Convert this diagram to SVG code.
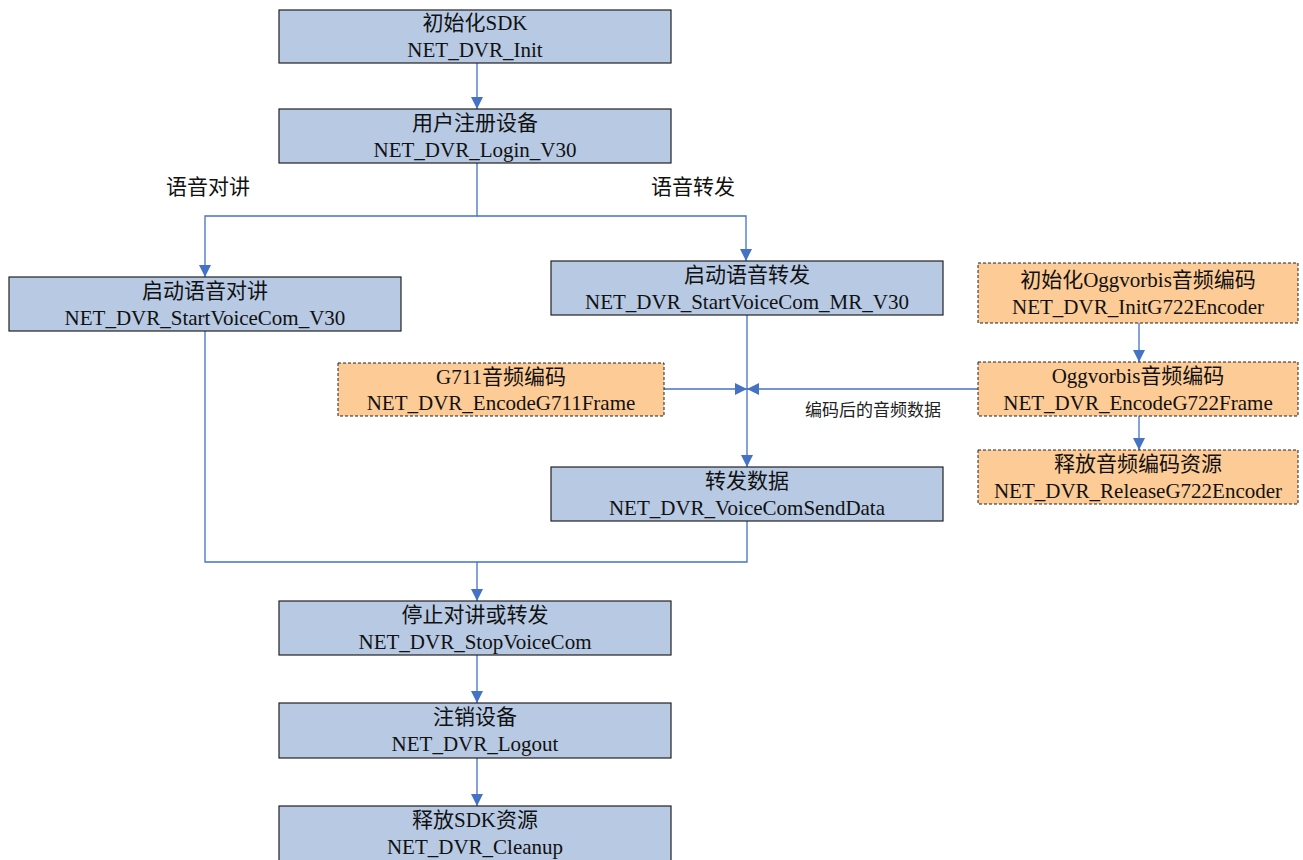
<svg xmlns="http://www.w3.org/2000/svg" width="1303" height="860" viewBox="0 0 1303 860">
<style>
.b{fill:#B7C9E3;stroke:#222;stroke-width:1.2}
.o{fill:#FDCB96;stroke:#222;stroke-width:1;stroke-dasharray:3 2}
.t{font-family:"Liberation Serif","Noto Sans CJK SC",serif;font-size:21px;fill:#111;text-anchor:middle}
.s{font-family:"Liberation Serif","Noto Sans CJK SC",serif;font-size:17px;fill:#222;text-anchor:middle}
.c{fill:none;stroke:#4472C4;stroke-width:1.3}
</style>
<defs>
<marker id="a" markerUnits="userSpaceOnUse" markerWidth="12" markerHeight="12" viewBox="0 0 12 12" refX="12" refY="6" orient="auto"><path d="M0,0 L12,6 L0,12 z" fill="#4472C4"/></marker>
</defs>
<rect width="1303" height="860" fill="#fff"/>
<g id="connectors">
<path class="c" d="M477,63 V109" marker-end="url(#a)"/>
<path class="c" d="M477,163 V216 H205 V277" marker-end="url(#a)"/>
<path class="c" d="M477,216 H746 V261" marker-end="url(#a)"/>
<path class="c" d="M747,315 V467" marker-end="url(#a)"/>
<path class="c" d="M664,389 H747" marker-end="url(#a)"/>
<path class="c" d="M978,389 H747" marker-end="url(#a)"/>
<path class="c" d="M1139,323 V362" marker-end="url(#a)"/>
<path class="c" d="M1139,416 V450" marker-end="url(#a)"/>
<path class="c" d="M205,331 V562 H747 V521"/>
<path class="c" d="M477,562 V601" marker-end="url(#a)"/>
<path class="c" d="M477,655 V703" marker-end="url(#a)"/>
<path class="c" d="M477,758 V806" marker-end="url(#a)"/>
</g>
<g id="lbl1"><text class="t" x="208" y="194">语音对讲</text></g>
<g id="lbl2"><text class="t" x="693" y="194">语音转发</text></g>
<g id="lbl3"><text class="s" x="873" y="416">编码后的音频数据</text></g>
<g id="n1"><rect class="b" x="279" y="10" width="392" height="53"/><text class="t" x="475" y="30">初始化SDK</text><text class="t" x="475" y="57">NET_DVR_Init</text></g>
<g id="n2"><rect class="b" x="279" y="109" width="392" height="54"/><text class="t" x="475" y="130">用户注册设备</text><text class="t" x="475" y="157">NET_DVR_Login_V30</text></g>
<g id="n3"><rect class="b" x="9" y="277" width="392" height="54"/><text class="t" x="205" y="298">启动语音对讲</text><text class="t" x="205" y="325">NET_DVR_StartVoiceCom_V30</text></g>
<g id="n4"><rect class="b" x="551" y="261" width="392" height="54"/><text class="t" x="747" y="282">启动语音转发</text><text class="t" x="747" y="309">NET_DVR_StartVoiceCom_MR_V30</text></g>
<g id="n5"><rect class="o" x="338" y="363" width="326" height="53"/><text class="t" x="501" y="384">G711音频编码</text><text class="t" x="501" y="410">NET_DVR_EncodeG711Frame</text></g>
<g id="n6"><rect class="o" x="978" y="263" width="320" height="60"/><text class="t" x="1138" y="287">初始化Oggvorbis音频编码</text><text class="t" x="1138" y="314">NET_DVR_InitG722Encoder</text></g>
<g id="n7"><rect class="o" x="978" y="362" width="320" height="54"/><text class="t" x="1138" y="383">Oggvorbis音频编码</text><text class="t" x="1138" y="410">NET_DVR_EncodeG722Frame</text></g>
<g id="n8"><rect class="o" x="978" y="450" width="320" height="54"/><text class="t" x="1138" y="471">释放音频编码资源</text><text class="t" x="1138" y="498">NET_DVR_ReleaseG722Encoder</text></g>
<g id="n9"><rect class="b" x="551" y="467" width="392" height="54"/><text class="t" x="747" y="488">转发数据</text><text class="t" x="747" y="515">NET_DVR_VoiceComSendData</text></g>
<g id="n10"><rect class="b" x="279" y="601" width="392" height="54"/><text class="t" x="475" y="622">停止对讲或转发</text><text class="t" x="475" y="649">NET_DVR_StopVoiceCom</text></g>
<g id="n11"><rect class="b" x="279" y="703" width="392" height="55"/><text class="t" x="475" y="724">注销设备</text><text class="t" x="475" y="751">NET_DVR_Logout</text></g>
<g id="n12"><rect class="b" x="279" y="806" width="392" height="60"/><text class="t" x="475" y="827">释放SDK资源</text><text class="t" x="475" y="854">NET_DVR_Cleanup</text></g>
</svg>
